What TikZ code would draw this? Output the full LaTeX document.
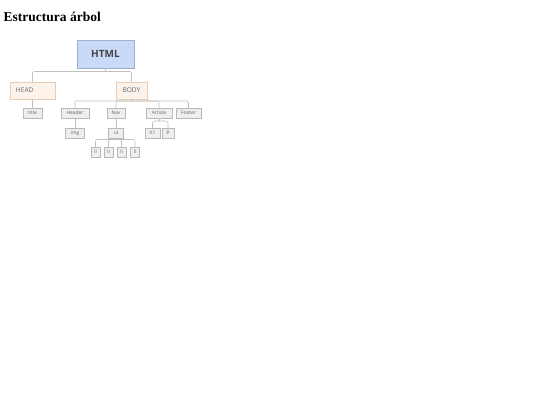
\documentclass[tikz,border=0pt]{standalone}
\usepackage{fontspec}
\setmainfont{Liberation Serif}
\newfontfamily\boxfont{Open Sans}
\definecolor{htmlfill}{HTML}{C9DAF8}
\definecolor{htmlline}{HTML}{9DB0CF}
\definecolor{peachfill}{HTML}{FDF3EA}
\definecolor{peachline}{HTML}{E6CDB6}
\definecolor{leaffill}{HTML}{EEEEEE}
\definecolor{leafline}{HTML}{B8B8B8}
\definecolor{wire}{HTML}{C0C0C0}
\definecolor{labeltext}{HTML}{444444}
\definecolor{softtext}{HTML}{666666}
\tikzset{
  htmlbox/.style={draw=htmlline, fill=htmlfill, line width=0.6pt, minimum width=57pt, minimum height=28pt, inner sep=0pt, font=\boxfont\fontsize{10}{12}\selectfont\bfseries, text=labeltext},
  peachbox/.style={draw=peachline, fill=peachfill, line width=0.6pt, minimum height=17pt, inner sep=0pt, font=\boxfont\fontsize{6.6}{8}\selectfont, text=softtext},
  leafbox/.style={draw=leafline, fill=leaffill, line width=0.5pt, minimum height=10pt, inner sep=0pt, font=\boxfont\fontsize{4.9}{5.5}\selectfont, text=softtext},
  wireline/.style={draw=wire, line width=0.6pt, rounded corners=2pt},
}
\begin{document}
\begin{tikzpicture}[x=1pt,y=-1pt]
\useasboundingbox (0,0) rectangle (540,405);
\node[anchor=base west, inner sep=0pt, font=\fontsize{13.5}{16}\selectfont\bfseries] (ttl) at (3.5,21.5) {Estructura árbol};

\coordinate (j1) at (105.5,71.5);
\coordinate (j2) at (131.5,101);
\coordinate (j3) at (116,139.5);
\coordinate (j4) at (159,121);

\node[htmlbox] (html) at (105.5,54) {HTML};
\node[peachbox, minimum width=45pt, text width=33pt, align=left] (head) at (32.5,90.5) {HEAD};
\node[peachbox, minimum width=31pt] (body) at (131.5,90.5) {BODY};

\node[leafbox, minimum width=19pt] (title) at (32.5,113) {title};
\node[leafbox, minimum width=28pt] (header) at (75,113) {Header};
\node[leafbox, minimum width=18pt] (nav) at (116,113) {Nav};
\node[leafbox, minimum width=26pt] (article) at (159,113) {Article};
\node[leafbox, minimum width=25pt] (footer) at (188.5,113) {Footer};

\node[leafbox, minimum width=19pt] (img) at (75,133) {img};
\node[leafbox, minimum width=15pt] (ul) at (116,133) {ul};
\node[leafbox, minimum width=15pt] (h1) at (152.5,133) {h1};
\node[leafbox, minimum width=12pt] (p) at (168,133) {p};

\node[leafbox, minimum width=9pt] (li1) at (95.5,152) {li};
\node[leafbox, minimum width=9pt] (li2) at (108.5,152) {li};
\node[leafbox, minimum width=9pt] (li3) at (121.5,152) {li};
\node[leafbox, minimum width=9pt] (li4) at (135,152) {li};

\draw[wireline] (html.south) -- (j1);
\draw[wireline] (head.north) |- (j1) -| (body.north);
\draw[wireline] (head.south) -- (title.north);
\draw[wireline] (body.south) -- (j2);
\draw[wireline] (header.north) |- (j2) -| (footer.north);
\draw[wireline] (nav.north) |- (j2);
\draw[wireline] (article.north) |- (j2);
\draw[wireline] (header.south) -- (img.north);
\draw[wireline] (nav.south) -- (ul.north);
\draw[wireline] (ul.south) -- (j3);
\draw[wireline] (li1.north) |- (j3) -| (li4.north);
\draw[wireline] (li2.north) |- (j3);
\draw[wireline] (li3.north) |- (j3);
\draw[wireline] (article.south) -- (j4);
\draw[wireline] (h1.north) |- (j4) -| (p.north);
\end{tikzpicture}
\end{document}
